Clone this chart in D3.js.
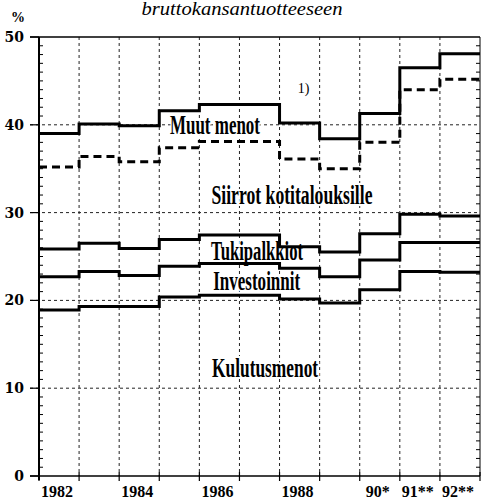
<!DOCTYPE html>
<html>
<head>
<meta charset="utf-8">
<script src="https://cdn.jsdelivr.net/npm/d3@7"></script>
<style>
  body { margin: 0; background: #fff; }
  svg { display: block; }
</style>
</head>
<body>
<svg id="chart" width="484" height="499"></svg>
<script>
// years shown on the x axis (one step per year)
const years = [1982, 1983, 1984, 1985, 1986, 1987, 1988, 1989, 1990, 1991, 1992];
const yearLabels = ["1982", "", "1984", "", "1986", "", "1988", "", "90*", "91**", "92**"];
const yTicks = [0, 10, 20, 30, 40, 50];

// cumulative levels, % of GDP (upper edge of each band)
const kulutusmenot = [18.9, 19.3, 19.3, 20.4, 20.6, 20.6, 20.15, 19.7, 21.2, 23.3, 23.2];
const investoinnit = [22.7, 23.3, 22.85, 23.9, 24.2, 24.2, 23.65, 22.7, 24.6, 26.6, 26.6];
const tukipalkkiot = [25.85, 26.5, 25.9, 26.95, 27.45, 27.45, 26.1, 25.5, 27.6, 29.8, 29.6];
const siirrot = [35.2, 36.4, 35.8, 37.4, 38.1, 38.1, 36.1, 35.0, 38.0, 44.0, 45.2];
const muutMenot = [39.0, 40.1, 39.9, 41.6, 42.3, 42.3, 40.2, 38.4, 41.3, 46.5, 48.1];

const series = [
  { values: kulutusmenot, dashed: false },
  { values: investoinnit, dashed: false },
  { values: tukipalkkiot, dashed: false },
  { values: siirrot, dashed: true },
  { values: muutMenot, dashed: false }
];

// label anchor: year position (centre) and value (baseline)
const areaLabels = [
  { text: "Muut menot", value: 38.9, year: 1986.39, width: 90 },
  { text: "Siirrot kotitalouksille", value: 31.0, year: 1988.31, width: 161 },
  { text: "Tukipalkkiot", value: 24.6, year: 1987.44, width: 92 },
  { text: "Investoinnit", value: 21.2, year: 1987.43, width: 87 },
  { text: "Kulutusmenot", value: 11.3, year: 1987.64, width: 106 }
];

const svg = d3.select("#chart");
const margin = { left: 39, right: 4, top: 37, bottom: 23 };
const W = 484, H = 499;

const x = d3.scaleLinear()
  .domain([years[0], years[years.length - 1] + 1])
  .range([margin.left, W - margin.right]);
const y = d3.scaleLinear()
  .domain([0, 50])
  .range([H - margin.bottom, margin.top]);

const serif = "'Liberation Serif', 'DejaVu Serif', serif";

// title (second line of the heading, upper line is cut off)
svg.append("text")
  .attr("x", 242).attr("y", 15)
  .attr("text-anchor", "middle")
  .attr("font-family", serif)
  .attr("font-style", "italic")
  .attr("font-size", 18)
  .attr("textLength", 201)
  .attr("lengthAdjust", "spacingAndGlyphs")
  .text("bruttokansantuotteeseen");

svg.append("text")
  .attr("x", 18).attr("y", 22)
  .attr("text-anchor", "middle")
  .attr("font-family", serif)
  .attr("font-weight", "bold")
  .attr("font-size", 14)
  .text("%");

// grid lines
const grid = svg.append("g")
  .attr("stroke", "#222")
  .attr("stroke-width", 1)
  .attr("stroke-dasharray", "3,3");

grid.selectAll("line.h")
  .data(yTicks.filter((d) => d > 0 && d < 50))
  .join("line")
  .attr("x1", x.range()[0] - 9).attr("x2", x.range()[1])
  .attr("y1", (d) => y(d)).attr("y2", (d) => y(d));

grid.selectAll("line.v")
  .data(years.slice(1))
  .join("line")
  .attr("x1", (d) => x(d)).attr("x2", (d) => x(d))
  .attr("y1", y(50)).attr("y2", y(0));

// area labels, white halo hides the grid behind them
svg.append("g")
  .selectAll("text")
  .data(areaLabels)
  .join("text")
  .attr("x", (d) => x(d.year))
  .attr("y", (d) => y(d.value))
  .attr("text-anchor", "middle")
  .attr("font-family", serif)
  .attr("font-weight", "bold")
  .attr("font-size", 27)
  .attr("textLength", (d) => d.width)
  .attr("lengthAdjust", "spacingAndGlyphs")
  .attr("stroke", "#fff")
  .attr("stroke-width", 4)
  .attr("paint-order", "stroke")
  .attr("fill", "#000")
  .text((d) => d.text);

// frame: left axis, top, right, bottom
const frame = svg.append("g").attr("stroke", "#000").attr("fill", "none");
frame.append("line")
  .attr("x1", x.range()[0]).attr("x2", x.range()[0])
  .attr("y1", y(50)).attr("y2", y(0) + 4)
  .attr("stroke-width", 2);
frame.append("line")
  .attr("x1", x.range()[0] - 9).attr("x2", x.range()[1])
  .attr("y1", y(50)).attr("y2", y(50))
  .attr("stroke-width", 1.5);
frame.append("line")
  .attr("x1", x.range()[1]).attr("x2", x.range()[1])
  .attr("y1", y(50)).attr("y2", y(0))
  .attr("stroke-width", 1);
frame.append("line")
  .attr("x1", x.range()[0] - 9).attr("x2", x.range()[1])
  .attr("y1", y(0)).attr("y2", y(0))
  .attr("stroke-width", 1.5);

// minor ticks every 1 %, pointing inwards on both sides
const minor = d3.range(1, 50).filter((d) => d % 10 !== 0);
frame.selectAll("line.ml")
  .data(minor)
  .join("line")
  .attr("x1", x.range()[0]).attr("x2", x.range()[0] + 4)
  .attr("y1", (d) => y(d)).attr("y2", (d) => y(d))
  .attr("stroke-width", 1);
frame.selectAll("line.mr")
  .data(minor)
  .join("line")
  .attr("x1", x.range()[1] - 4).attr("x2", x.range()[1])
  .attr("y1", (d) => y(d)).attr("y2", (d) => y(d))
  .attr("stroke-width", 1);

// major tick stubs on the left
frame.selectAll("line.mj")
  .data(yTicks)
  .join("line")
  .attr("x1", x.range()[0] - 9).attr("x2", x.range()[0])
  .attr("y1", (d) => y(d)).attr("y2", (d) => y(d))
  .attr("stroke-width", 1.2);

// x ticks at year boundaries
frame.selectAll("line.xt")
  .data(years.concat([years[years.length - 1] + 1]))
  .join("line")
  .attr("x1", (d) => x(d)).attr("x2", (d) => x(d))
  .attr("y1", y(0) - 4).attr("y2", y(0) + 5)
  .attr("stroke-width", 1.2);

// y labels
svg.append("g")
  .selectAll("text")
  .data(yTicks)
  .join("text")
  .attr("x", 24)
  .attr("y", (d) => y(d) + 5)
  .attr("text-anchor", "end")
  .attr("font-family", "'DejaVu Serif', serif")
  .attr("font-weight", "bold")
  .attr("font-size", 14)
  .text((d) => d);

// x labels, centred in each year band
svg.append("g")
  .selectAll("text")
  .data(years)
  .join("text")
  .attr("x", (d) => x(d + 0.5) - 2)
  .attr("y", H - 2)
  .attr("text-anchor", "middle")
  .attr("font-family", serif)
  .attr("font-weight", "bold")
  .attr("font-size", 16)
  .text((d, i) => yearLabels[i]);

// step lines
const line = d3.line()
  .x((d) => x(d[0]))
  .y((d) => y(d[1]))
  .curve(d3.curveStepAfter);

svg.append("g")
  .selectAll("path")
  .data(series)
  .join("path")
  .attr("fill", "none")
  .attr("stroke", "#000")
  .attr("stroke-width", 3)
  .attr("stroke-dasharray", (d) => (d.dashed ? "8,5" : null))
  .attr("d", (d) => {
    const pts = years.map((yr, i) => [yr, d.values[i]]);
    pts.push([years[years.length - 1] + 1, d.values[d.values.length - 1]]);
    return line(pts);
  });

svg.append("text")
  .attr("x", x(1988.6)).attr("y", y(43.6))
  .attr("text-anchor", "middle")
  .attr("font-family", serif)
  .attr("font-size", 14)
  .text("1)");
</script>
</body>
</html>
